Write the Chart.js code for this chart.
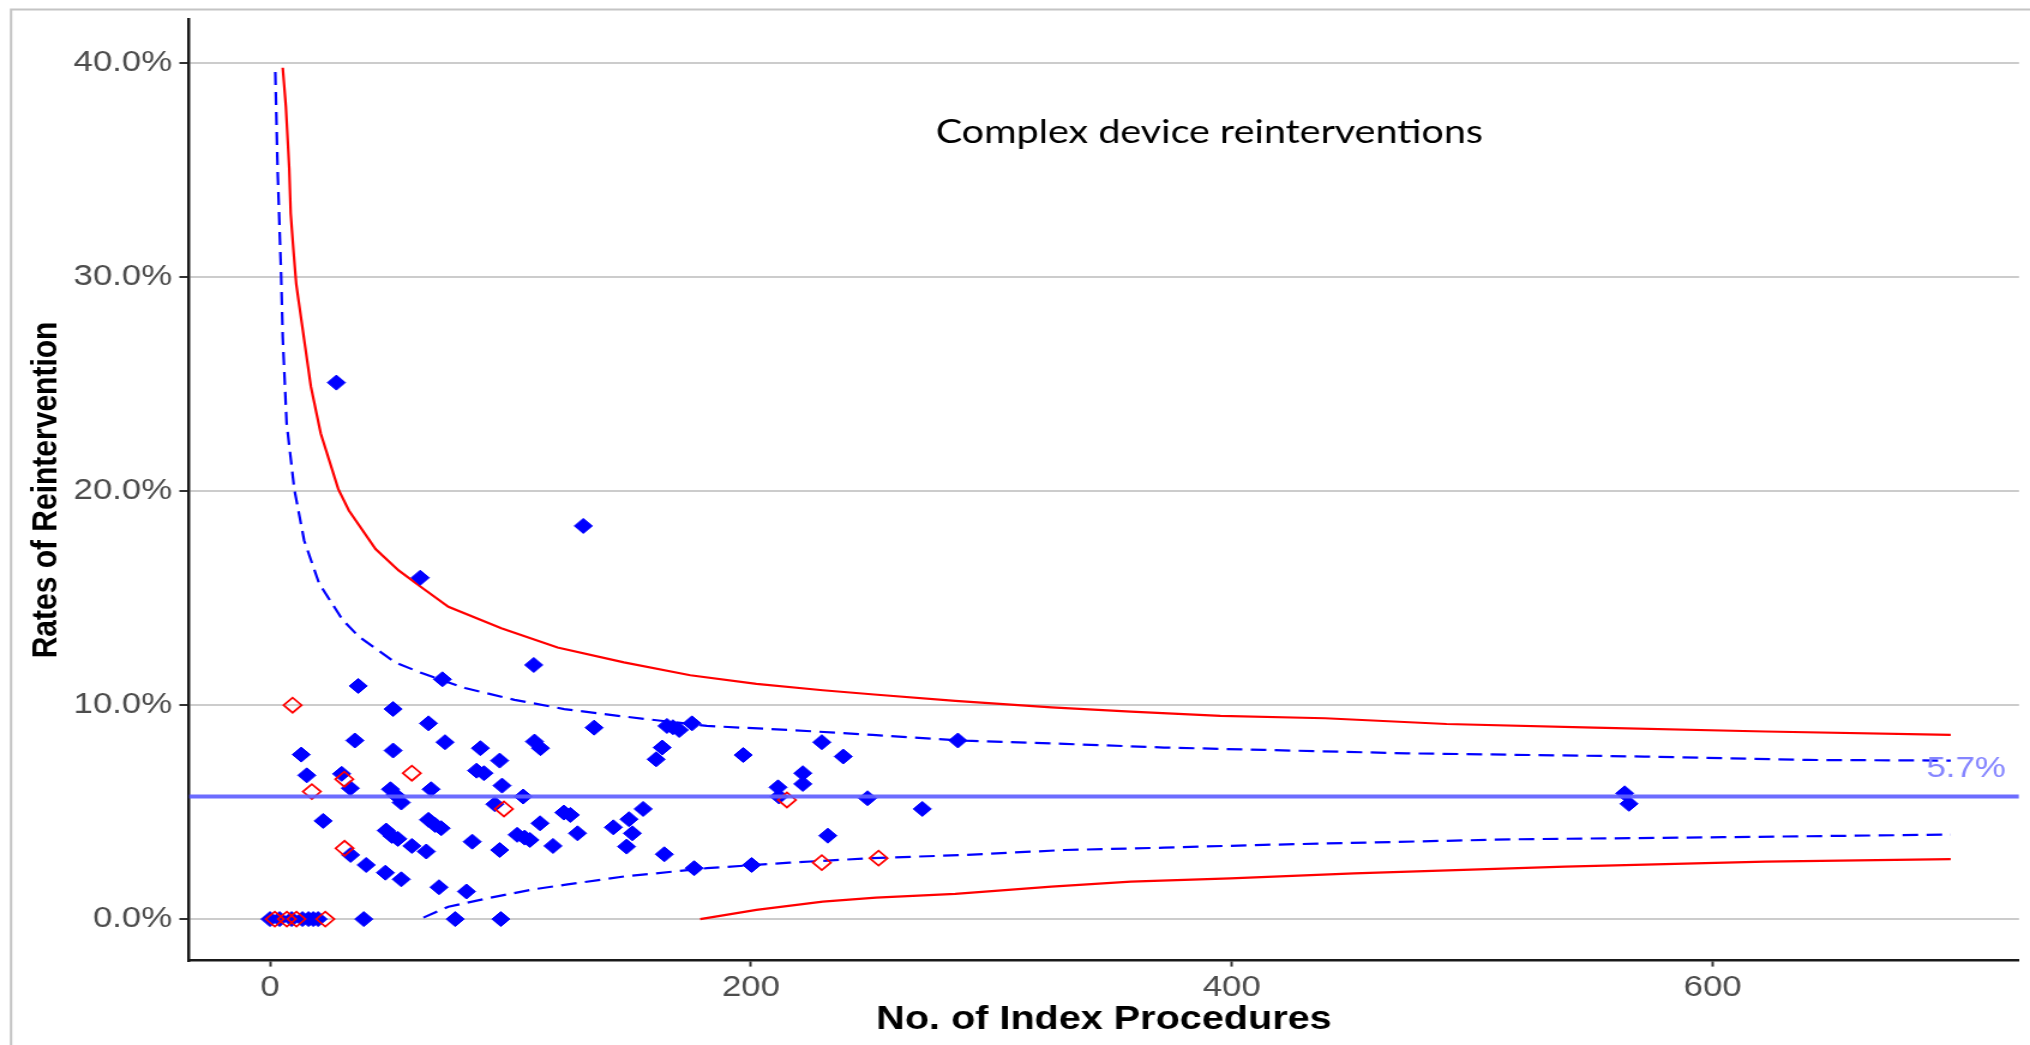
<!DOCTYPE html>
<html>
<head>
<meta charset="utf-8">
<title>Complex device reinterventions</title>
<script src="https://cdn.jsdelivr.net/npm/chart.js@4.4.1/dist/chart.umd.min.js"></script>
<style>
  html, body { margin: 0; padding: 0; background: #fff; overflow: hidden; }
  #funnel { display: block; }
</style>
</head>
<body>
<canvas id="funnel" width="1692" height="1045" style="width:2030px;height:1045px"></canvas>
<script>
// axis ranges and ticks
const X_MIN = -33.7, X_MAX = 727.4;
const Y_MIN = -1.94, Y_MAX = 42.06;
const xTicks = [0, 200, 400, 600];
const yTicks = [0, 10, 20, 30, 40];
const meanRate = 5.73;
const meanLabel = '5.7%';

// hospitals, [index procedures, reintervention rate %]
const bluePoints = [
  [0, 0], [4, 0], [9, 0], [13.5, 0], [16, 0], [18, 0], [20, 0], [39, 0], [77, 0], [96, 0],
  [27.6, 25.08], [130.3, 18.38], [62.5, 15.96],
  [109.7, 11.88], [71.7, 11.21], [36.7, 10.9],
  [51.2, 9.82], [65.9, 9.15], [35.3, 8.35], [72.8, 8.27], [13.0, 7.69], [51.2, 7.88],
  [87.5, 7.99], [110.0, 8.30], [112.5, 7.99], [95.5, 7.41],
  [15.3, 6.72], [29.8, 6.79], [33.4, 6.12], [85.9, 6.94], [89.0, 6.82], [96.5, 6.24],
  [50.1, 6.07], [52.1, 5.81], [54.6, 5.45], [67.0, 6.07], [105.3, 5.73], [93.5, 5.37],
  [122.2, 4.98], [124.9, 4.87], [22.1, 4.59], [65.9, 4.64], [68.7, 4.40], [71.2, 4.25],
  [112.3, 4.48], [48.3, 4.14], [50.7, 3.89], [53.2, 3.75], [102.8, 3.94], [105.9, 3.81],
  [108.1, 3.70], [84.1, 3.62], [117.7, 3.42], [59.0, 3.42], [65.0, 3.16], [95.5, 3.23],
  [33.5, 3.0], [40.0, 2.53], [48.0, 2.17], [54.6, 1.86], [70.3, 1.49], [81.7, 1.29],
  [134.8, 8.95], [165.1, 9.03], [167.6, 8.97], [170.2, 8.84], [175.5, 9.15], [163.1, 8.02],
  [160.6, 7.47], [196.8, 7.67], [229.5, 8.27], [238.4, 7.60], [221.6, 6.82], [221.6, 6.32],
  [211.3, 6.16], [211.7, 5.73], [248.5, 5.65], [155.2, 5.15], [149.3, 4.67], [142.8, 4.29],
  [150.7, 4.01], [127.9, 4.01], [148.3, 3.39], [232.0, 3.90], [164.0, 3.03], [176.4, 2.38],
  [200.3, 2.53], [286.1, 8.35], [271.3, 5.15], [563.4, 5.88], [565.2, 5.39]
];
const redPoints = [
  [2, 0], [7, 0], [11, 0], [23, 0],
  [9.4, 10.0], [30.9, 6.54], [59.0, 6.82], [17.4, 5.96], [97.3, 5.15], [31.0, 3.31],
  [215.0, 5.57], [229.5, 2.64], [253.1, 2.85]
];

// control limits
const upper998 = [
  [5.3, 39.8], [6.6, 38.0], [8.0, 35.1], [8.6, 33.0], [9.8, 31.2], [10.9, 29.7], [11.9, 28.9],
  [17.0, 24.9], [21.1, 22.7], [28.4, 20.1], [32.8, 19.1], [43.9, 17.3], [53.5, 16.3],
  [63.1, 15.5], [74.2, 14.6], [96.2, 13.6], [119.6, 12.7], [147.2, 12.0], [174.8, 11.4],
  [202.3, 11.0], [229.9, 10.7], [251.3, 10.5], [285, 10.2], [325, 9.9], [358, 9.7],
  [395.3, 9.5], [438.8, 9.39], [489.3, 9.12], [550.7, 8.95], [621.9, 8.77], [699, 8.61]
];
const upper95 = [
  [2.2, 39.6], [3.2, 34.9], [4.6, 30.2], [5.3, 27.2], [6.9, 23.2], [10.1, 20.1], [14.2, 17.7],
  [20.4, 15.7], [30.1, 14.0], [37.0, 13.2], [52.1, 12.0], [63.1, 11.5], [81.1, 10.8],
  [101.7, 10.25], [122.4, 9.82], [147.2, 9.47], [181.7, 9.03], [216.1, 8.84], [250.6, 8.61],
  [289.2, 8.34], [330.5, 8.19], [371.8, 8.02], [413.2, 7.91], [472.8, 7.75], [571.5, 7.6],
  [639.5, 7.44], [699, 7.41]
];
const lower95 = [
  [63.8, 0.07], [74.2, 0.58], [90.7, 0.98], [110.0, 1.4], [123.8, 1.62], [147.2, 1.99],
  [181.7, 2.38], [216.1, 2.64], [250.6, 2.85], [289.2, 3.0], [330.5, 3.23], [371.8, 3.34],
  [413.2, 3.47], [516.7, 3.73], [604.4, 3.83], [699, 3.95]
];
const lower998 = [
  [178.9, 0], [202.3, 0.43], [229.9, 0.82], [252, 1.0], [285, 1.18], [325, 1.52], [358, 1.75],
  [399.4, 1.9], [450.9, 2.14], [538.6, 2.45], [621.9, 2.69], [699, 2.8]
];

const toXY = pts => pts.map(p => ({ x: p[0], y: p[1] }));

// frame, caption and mean label
const decorations = {
    id: 'decorations',
    beforeDraw(chart) {
        const ctx = chart.ctx;
        ctx.save();
        ctx.fillStyle = '#fff';
        ctx.fillRect(0, 0, chart.width, chart.height);
        ctx.strokeStyle = '#c4c4c4';
        ctx.lineWidth = 2;
        ctx.beginPath();
        ctx.moveTo(9.2, chart.height);
        ctx.lineTo(9.2, 9.5);
        ctx.lineTo(chart.width, 9.5);
        ctx.stroke();
        ctx.restore();
    },
    afterDraw(chart) {
        const ctx = chart.ctx;
        const { chartArea } = chart;
        const yScale = chart.scales.y;
        ctx.save();
        // caption
        const caption = 'Complex device reinterventions';
        ctx.font = '30px Lato';
        const fit = 30 * 456 / ctx.measureText(caption).width;
        ctx.font = `${fit.toFixed(1)}px Lato`;
        ctx.fillStyle = '#000';
        ctx.textAlign = 'center';
        ctx.textBaseline = 'alphabetic';
        ctx.fillText(caption, 1008, 143);
        // mean value label
        ctx.font = '29px "Liberation Sans", Arial, sans-serif';
        ctx.fillStyle = '#8585ff';
        ctx.textAlign = 'right';
        ctx.fillText(meanLabel, chartArea.right - 11, yScale.getPixelForValue(meanRate) - 20);
        ctx.restore();
    }
};

const tickFont = { family: '"Liberation Sans", Arial, sans-serif', size: 29 };
const yTitleFont = { family: '"Liberation Sans", Arial, sans-serif', size: 30, weight: 'bold' };
const xTitleFont = { family: '"Liberation Sans", Arial, sans-serif', size: 33, weight: 'bold' };

new Chart(document.getElementById('funnel').getContext('2d'), {
    type: 'scatter',
    data: {
        datasets: [{
            label: 'Mean',
            data: [{ x: X_MIN, y: meanRate }, { x: X_MAX, y: meanRate }],
            showLine: true,
            borderColor: 'rgba(95, 95, 255, 0.92)',
            borderWidth: 4,
            pointRadius: 0,
            order: 0
        }, {
            label: 'Outlier flagged',
            data: toXY(redPoints),
            pointStyle: 'rectRot',
            pointRadius: 7.5,
            backgroundColor: 'rgba(0,0,0,0)',
            borderColor: '#ff0000',
            borderWidth: 1.7,
            order: 1
        }, {
            label: 'Hospitals',
            data: toXY(bluePoints),
            pointStyle: 'rectRot',
            pointRadius: 7.5,
            backgroundColor: '#0000ff',
            borderColor: '#0000ff',
            borderWidth: 1,
            order: 2
        }, {
            label: 'Upper 99.8%',
            data: toXY(upper998),
            showLine: true, pointRadius: 0,
            borderColor: '#ff0000', borderWidth: 2.2,
            order: 3
        }, {
            label: 'Lower 99.8%',
            data: toXY(lower998),
            showLine: true, pointRadius: 0,
            borderColor: '#ff0000', borderWidth: 2.2,
            order: 3
        }, {
            label: 'Upper 95%',
            data: toXY(upper95),
            showLine: true, pointRadius: 0,
            borderColor: '#0000ff', borderWidth: 2.2, borderDash: [13, 7],
            order: 3
        }, {
            label: 'Lower 95%',
            data: toXY(lower95),
            showLine: true, pointRadius: 0,
            borderColor: '#0000ff', borderWidth: 2.2, borderDash: [13, 7],
            order: 3
        }]
    },
    options: {
        responsive: false,
        animation: false,
        devicePixelRatio: 1,
        layout: { padding: { top: 19.4, right: 0, bottom: 0, left: 0 } },
        plugins: { legend: { display: false }, tooltip: { enabled: false } },
        scales: {
            x: {
                type: 'linear',
                min: X_MIN,
                max: X_MAX,
                afterBuildTicks: s => { s.ticks = xTicks.map(v => ({ value: v })); },
                afterFit: s => { s.height = 84.4; s.paddingLeft = 0; s.paddingRight = 0; },
                ticks: { font: tickFont, color: '#4d4d4d', padding: 4, maxRotation: 0 },
                grid: { drawOnChartArea: false, drawTicks: true, tickLength: 6, tickColor: '#333', tickWidth: 2 },
                border: { display: true, color: '#1a1a1a', width: 2.5 },
                title: { display: true, text: 'No. of Index Procedures', font: xTitleFont, color: '#000', padding: { top: 0, bottom: 5 } }
            },
            y: {
                type: 'linear',
                min: Y_MIN,
                max: Y_MAX,
                afterBuildTicks: s => { s.ticks = yTicks.map(v => ({ value: v })); },
                afterFit: s => { s.width = 157.5; s.paddingTop = 0; s.paddingBottom = 0; },
                ticks: {
                    font: tickFont, color: '#4d4d4d', padding: 6,
                    callback: v => v.toFixed(1) + '%'
                },
                grid: { color: '#cccccc', lineWidth: 2, drawTicks: true, tickLength: 8, tickColor: '#333', tickWidth: 2 },
                border: { display: true, color: '#1a1a1a', width: 2.5 },
                title: { display: true, text: 'Rates of Reintervention', font: yTitleFont, color: '#000', padding: { top: 21, bottom: 0 } }
            }
        }
    },
    plugins: [decorations]
});
</script>
</body>
</html>
